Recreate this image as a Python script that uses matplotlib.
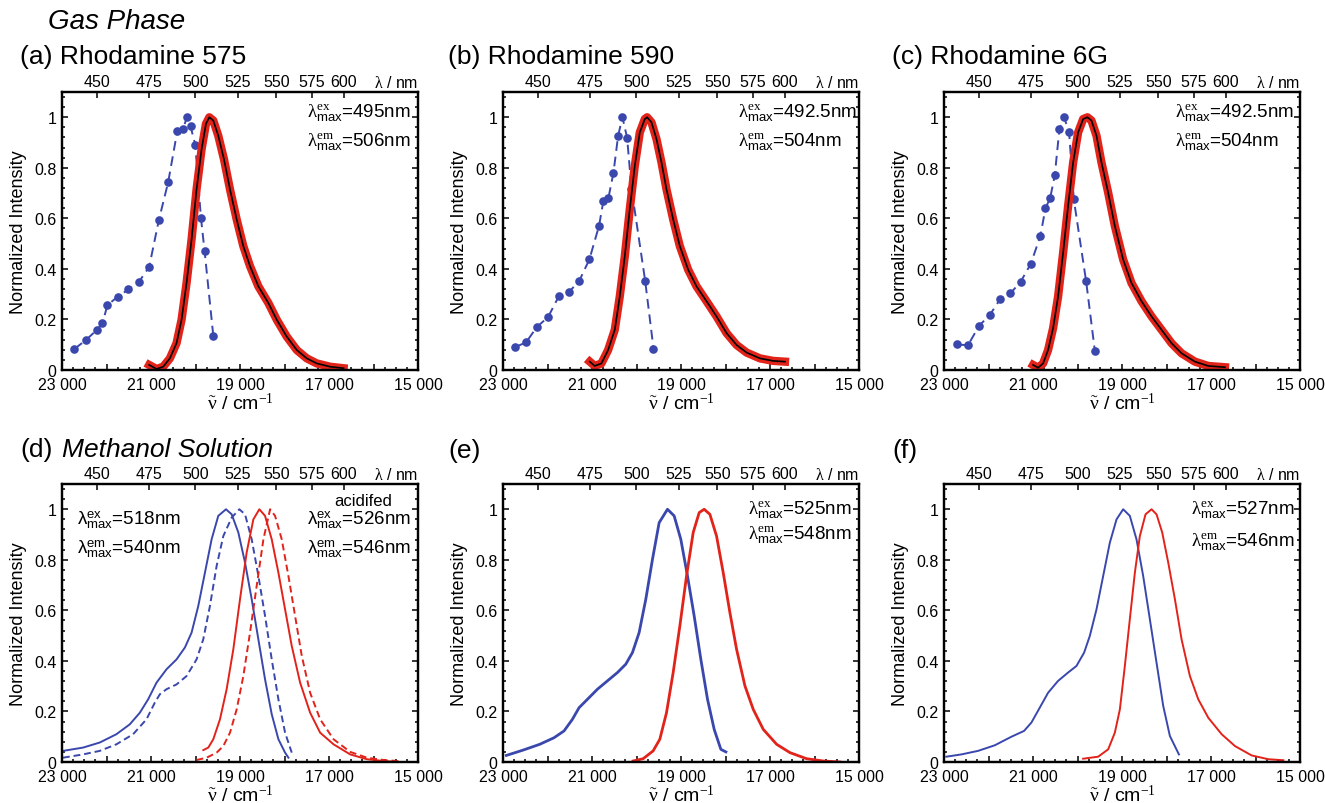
import numpy as np
import matplotlib
matplotlib.use("Agg")
import matplotlib.pyplot as plt
from matplotlib.ticker import MultipleLocator, FuncFormatter, NullLocator

plt.rcParams.update({
    "font.family": ["Liberation Sans", "DejaVu Sans"],
    "mathtext.fontset": "custom",
    "mathtext.rm": "Liberation Serif",
    "mathtext.it": "Liberation Serif:italic",
    "mathtext.sf": "Liberation Sans",
})

BLUE = "#3a47ad"
RED = "#e2231a"
WL_TICKS = [450, 475, 500, 525, 550, 575, 600]

# ---- gas phase: excitation points (cm-1, normalized) ----
A_EX_X = [22722, 22467, 22219, 22092, 21979, 21747, 21507, 21274, 21041, 20824,
          20613, 20411, 20283, 20193, 20111, 20005, 19878, 19795, 19600]
A_EX_Y = [0.083, 0.118, 0.158, 0.184, 0.257, 0.290, 0.319, 0.348, 0.408, 0.593,
          0.744, 0.944, 0.952, 1.000, 0.964, 0.890, 0.603, 0.469, 0.135]
B_EX_X = [22738, 22483, 22235, 21988, 21748, 21508, 21283, 21058, 20841, 20743,
          20631, 20518, 20413, 20316, 20211, 20113, 19806, 19618]
B_EX_Y = [0.090, 0.109, 0.171, 0.209, 0.291, 0.310, 0.354, 0.438, 0.571, 0.670,
          0.681, 0.780, 0.927, 1.000, 0.919, 0.718, 0.354, 0.085]
C_EX_X = [22715, 22460, 22213, 21973, 21733, 21508, 21275, 21050, 20833, 20721,
          20616, 20511, 20406, 20301, 20188, 20083, 19806, 19611]
C_EX_Y = [0.101, 0.098, 0.175, 0.217, 0.282, 0.303, 0.350, 0.420, 0.531, 0.640,
          0.679, 0.770, 0.954, 1.000, 0.940, 0.675, 0.351, 0.077]

# ---- gas phase: emission (smoothed fit over the raw trace) ----
A_EM_X = [21041, 20876, 20726, 20576, 20426, 20313, 20201, 20088, 19976, 19863,
          19765, 19690, 19600, 19488, 19360, 19225, 19075, 18925, 18775, 18587,
          18362, 18174, 17949, 17724, 17499, 17274, 16974, 16673]
A_EM_Y = [0.020, 0.004, 0.013, 0.046, 0.106, 0.199, 0.344, 0.517, 0.715, 0.874,
          0.974, 1.000, 0.987, 0.927, 0.834, 0.715, 0.596, 0.490, 0.411, 0.331,
          0.265, 0.199, 0.132, 0.079, 0.046, 0.026, 0.013, 0.007]
B_EM_X = [21050, 20938, 20788, 20638, 20488, 20376, 20263, 20151, 20038, 19926,
          19813, 19761, 19663, 19551, 19438, 19326, 19176, 19026, 18839, 18651,
          18426, 18201, 17976, 17751, 17526, 17226, 16927, 16664]
B_EM_Y = [0.033, 0.016, 0.026, 0.079, 0.159, 0.291, 0.450, 0.636, 0.808, 0.940,
          0.993, 1.000, 0.980, 0.914, 0.821, 0.715, 0.596, 0.490, 0.397, 0.331,
          0.272, 0.212, 0.146, 0.099, 0.069, 0.046, 0.036, 0.033]
C_EM_X = [20998, 20886, 20773, 20661, 20548, 20436, 20323, 20211, 20098, 19986,
          19873, 19776, 19686, 19573, 19461, 19311, 19161, 18974, 18786, 18561,
          18336, 18111, 17886, 17661, 17361, 17061, 16687]
C_EM_Y = [0.020, 0.009, 0.026, 0.079, 0.166, 0.291, 0.464, 0.649, 0.821, 0.940,
          0.993, 1.000, 0.987, 0.927, 0.821, 0.702, 0.570, 0.437, 0.344, 0.272,
          0.212, 0.159, 0.106, 0.066, 0.033, 0.016, 0.011]

# ---- methanol solution ----
D_EX_X = [22977, 22527, 22152, 21777, 21477, 21251, 21064, 20876, 20651, 20426,
          20238, 20088, 19938, 19788, 19638, 19488, 19315, 19187, 19037, 18887,
          18737, 18587, 18437, 18287, 18137, 17987, 17912]
D_EX_Y = [0.044, 0.057, 0.077, 0.110, 0.149, 0.195, 0.248, 0.314, 0.367, 0.406,
          0.453, 0.512, 0.617, 0.749, 0.881, 0.974, 1.000, 0.980, 0.908, 0.789,
          0.644, 0.485, 0.327, 0.189, 0.090, 0.037, 0.017]
D_EXA_X = [22977, 22527, 22152, 21777, 21402, 21101, 20914, 20801, 20651, 20426,
           20201, 19976, 19826, 19676, 19525, 19375, 19187, 19015, 18887, 18737,
           18587, 18437, 18287, 18137, 17987, 17837]
D_EXA_Y = [0.017, 0.030, 0.044, 0.070, 0.110, 0.169, 0.235, 0.268, 0.288, 0.307,
           0.340, 0.406, 0.485, 0.617, 0.776, 0.894, 0.967, 1.000, 0.980, 0.881,
           0.736, 0.578, 0.406, 0.248, 0.116, 0.037]
D_EM_X = [19825, 19713, 19600, 19450, 19300, 19150, 19000, 18850, 18700, 18565,
          18437, 18287, 18137, 17987, 17837, 17649, 17424, 17199, 16898, 16523,
          16148, 15773, 15398]
D_EM_Y = [0.047, 0.057, 0.090, 0.169, 0.288, 0.446, 0.644, 0.829, 0.960, 1.000,
          0.974, 0.881, 0.749, 0.604, 0.459, 0.314, 0.195, 0.116, 0.070, 0.030,
          0.011, 0.004, 0.000]
D_EMA_X = [19976, 19750, 19525, 19375, 19225, 19075, 18925, 18775, 18625, 18474,
           18324, 18212, 18062, 17912, 17762, 17612, 17424, 17199, 16898, 16523,
           16148, 15773, 15398]
D_EMA_Y = [0.008, 0.017, 0.037, 0.063, 0.116, 0.208, 0.340, 0.512, 0.697, 0.881,
           1.000, 0.974, 0.881, 0.736, 0.578, 0.420, 0.274, 0.169, 0.090, 0.040,
           0.017, 0.008, 0.003]
E_EX_X = [22925, 22550, 22175, 21853, 21628, 21440, 21290, 21103, 20878, 20653,
          20428, 20241, 20091, 19941, 19791, 19641, 19491, 19304, 19154, 19004,
          18854, 18704, 18554, 18404, 18254, 18104, 17991]
E_EX_Y = [0.026, 0.047, 0.070, 0.096, 0.123, 0.169, 0.215, 0.248, 0.288, 0.321,
          0.354, 0.387, 0.433, 0.512, 0.644, 0.802, 0.947, 1.000, 0.974, 0.881,
          0.736, 0.578, 0.406, 0.248, 0.129, 0.050, 0.040]
E_EM_X = [20076, 19851, 19626, 19476, 19326, 19176, 19026, 18876, 18726, 18591,
          18479, 18351, 18201, 18051, 17901, 17751, 17563, 17376, 17151, 16851,
          16551, 16177, 15802, 15427]
E_EM_Y = [0.004, 0.013, 0.044, 0.090, 0.195, 0.354, 0.538, 0.736, 0.908, 0.987,
          1.000, 0.980, 0.894, 0.749, 0.591, 0.446, 0.301, 0.208, 0.129, 0.070,
          0.037, 0.013, 0.004, 0.000]
F_EX_X = [22948, 22610, 22235, 21860, 21485, 21201, 21036, 20848, 20661, 20436,
          20211, 20023, 19851, 19723, 19573, 19423, 19273, 19123, 18974, 18824,
          18674, 18524, 18374, 18224, 18074, 17924, 17721]
F_EX_Y = [0.021, 0.030, 0.044, 0.066, 0.100, 0.123, 0.156, 0.215, 0.274, 0.321,
          0.354, 0.380, 0.433, 0.499, 0.604, 0.736, 0.868, 0.960, 1.000, 0.974,
          0.881, 0.736, 0.565, 0.393, 0.222, 0.103, 0.030]
F_EM_X = [19873, 19536, 19311, 19161, 19048, 18936, 18824, 18711, 18599, 18471,
          18336, 18224, 18096, 17961, 17811, 17661, 17474, 17286, 17061, 16761,
          16461, 16087, 15712, 15375]
F_EM_Y = [0.013, 0.021, 0.050, 0.116, 0.208, 0.380, 0.565, 0.749, 0.894, 0.980,
          1.000, 0.980, 0.908, 0.789, 0.644, 0.485, 0.340, 0.248, 0.175, 0.110,
          0.063, 0.026, 0.011, 0.007]

LAMBDA_TXT = {
    "a": ("495", "506"), "b": ("492.5", "504"), "c": ("492.5", "504"),
    "d": ("518", "540"), "d_acid": ("526", "546"), "e": ("525", "548"), "f": ("527", "546"),
}

W, H = 1325, 804
fig = plt.figure(figsize=(W / 100, H / 100), dpi=100)


def px_axes(left, top):
    # axes frame 356 x 278 px, placed by its top-left pixel
    return fig.add_axes([left / W, 1 - (top + 278) / H, 356 / W, 278 / H])


def setup(ax):
    ax.set_xlim(23000, 15000)
    ax.set_ylim(0, 1.1)
    ax.xaxis.set_major_locator(MultipleLocator(1000))
    ax.xaxis.set_minor_locator(MultipleLocator(250))
    ax.xaxis.set_major_formatter(FuncFormatter(
        lambda v, p: f"{int(round(v)):,}".replace(",", " ") if int(round(v)) % 2000 == 1000 else ""))
    ax.yaxis.set_major_locator(MultipleLocator(0.2))
    ax.yaxis.set_minor_locator(MultipleLocator(0.04))
    ax.yaxis.set_major_formatter(FuncFormatter(lambda v, p: f"{v:g}"))
    ax.tick_params(which="both", direction="in", top=False, right=True, width=1.1,
                   labelsize=11.5)
    ax.tick_params(which="major", length=4.5)
    ax.tick_params(which="minor", length=2.2)
    ax.tick_params(axis="x", pad=5)
    ax.tick_params(axis="y", pad=4)
    for s in ax.spines.values():
        s.set_linewidth(1.6)
    ax.set_ylabel("Normalized Intensity", fontsize=13)
    ax.yaxis.set_label_coords(-0.098, 0.5)
    ax.set_xlabel(r"$\tilde{\mathrm{\nu}}$ / cm$^{-1}$", fontsize=14, labelpad=0)

    top = ax.twiny()
    top.set_xlim(ax.get_xlim())
    top.set_xticks(1e7 / np.array(WL_TICKS))
    top.set_xticklabels([str(w) for w in WL_TICKS])
    top.xaxis.set_minor_locator(NullLocator())
    top.tick_params(direction="in", length=4.5, width=1.1, pad=2, labelsize=11.5)
    for s in top.spines.values():
        s.set_linewidth(1.6)
    ax.text(1.0, 1.008, r"$\mathrm{\lambda}$ / nm", transform=ax.transAxes,
            ha="right", va="bottom", fontsize=11.5)


def lam_label(ax, x, y, ex, em, sans=False, dy=0.104):
    f = r"\mathsf" if sans else r"\mathrm"
    ax.text(x, y, rf"${f}{{\lambda}}^{{{f}{{ex}}}}_{{\mathsf{{max}}}}$=" + ex + "nm",
            transform=ax.transAxes, fontsize=13.5, ha="left", va="center")
    ax.text(x, y - dy, rf"${f}{{\lambda}}^{{{f}{{em}}}}_{{\mathsf{{max}}}}$=" + em + "nm",
            transform=ax.transAxes, fontsize=13.5, ha="left", va="center")


def gas_panel(ax, ex_x, ex_y, em_x, em_y):
    ax.plot(ex_x, ex_y, color=BLUE, lw=1.4, ls=(0, (5, 3)), marker="o", ms=6.2,
            markeredgewidth=0)
    ax.plot(em_x, em_y, color=RED, lw=6.0, solid_joinstyle="round")
    ax.plot(em_x, em_y, color="black", lw=1.2)


# ---- row 1: gas phase ----
ax_a = px_axes(62, 93)
ax_b = px_axes(503, 93)
ax_c = px_axes(944, 93)
for ax in (ax_a, ax_b, ax_c):
    setup(ax)
gas_panel(ax_a, A_EX_X, A_EX_Y, A_EM_X, A_EM_Y)
gas_panel(ax_b, B_EX_X, B_EX_Y, B_EM_X, B_EM_Y)
gas_panel(ax_c, C_EX_X, C_EX_Y, C_EM_X, C_EM_Y)
lam_label(ax_a, 0.688, 0.928, *LAMBDA_TXT["a"])
lam_label(ax_b, 0.660, 0.928, *LAMBDA_TXT["b"])
lam_label(ax_c, 0.649, 0.928, *LAMBDA_TXT["c"])

# ---- row 2: methanol solution ----
ax_d = px_axes(62, 485)
ax_e = px_axes(503, 485)
ax_f = px_axes(944, 485)
for ax in (ax_d, ax_e, ax_f):
    setup(ax)
ax_d.plot(D_EX_X, D_EX_Y, color=BLUE, lw=1.4)
ax_d.plot(D_EXA_X, D_EXA_Y, color=BLUE, lw=1.4, ls=(0, (3.5, 2)))
ax_d.plot(D_EM_X, D_EM_Y, color=RED, lw=1.4)
ax_d.plot(D_EMA_X, D_EMA_Y, color=RED, lw=1.4, ls=(0, (3.5, 2)))
ax_e.plot(E_EX_X, E_EX_Y, color=BLUE, lw=2.0)
ax_e.plot(E_EM_X, E_EM_Y, color=RED, lw=2.0)
ax_f.plot(F_EX_X, F_EX_Y, color=BLUE, lw=1.4)
ax_f.plot(F_EM_X, F_EM_Y, color=RED, lw=1.4)
lam_label(ax_d, 0.042, 0.874, *LAMBDA_TXT["d"], sans=True)
lam_label(ax_d, 0.688, 0.874, *LAMBDA_TXT["d_acid"], sans=True)
ax_d.text(0.845, 0.939, "acidifed", transform=ax_d.transAxes, fontsize=12,
          ha="center", va="center")
lam_label(ax_e, 0.688, 0.910, *LAMBDA_TXT["e"], dy=0.09)
lam_label(ax_f, 0.694, 0.910, *LAMBDA_TXT["f"], dy=0.115)

# ---- headings ----
fig.text(48 / W, 1 - 22 / H, "Gas Phase", fontsize=20, style="italic", va="center")
fig.text(20 / W, 1 - 57 / H, "(a) Rhodamine 575", fontsize=19, va="center")
fig.text(448 / W, 1 - 57 / H, "(b) Rhodamine 590", fontsize=19, va="center")
fig.text(892 / W, 1 - 57 / H, "(c) Rhodamine 6G", fontsize=19, va="center")
fig.text(20 / W, 1 - 450 / H, "(d)", fontsize=19, va="center")
fig.text(62 / W, 1 - 450 / H, "Methanol Solution", fontsize=19, style="italic", va="center")
fig.text(448 / W, 1 - 451 / H, "(e)", fontsize=19, va="center")
fig.text(892 / W, 1 - 451 / H, "(f)", fontsize=19, va="center")

fig.savefig("out.png", dpi=100, facecolor="white")
